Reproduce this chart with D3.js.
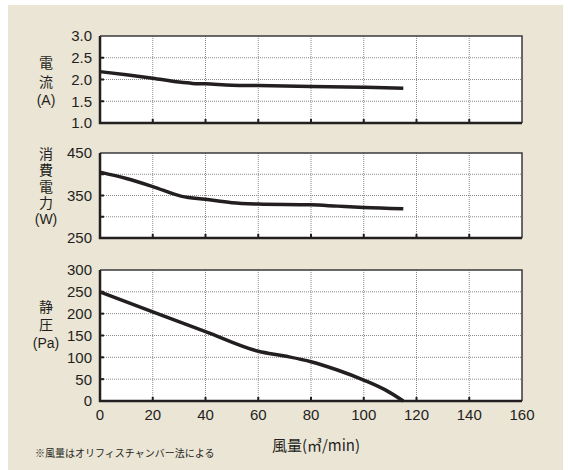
<!DOCTYPE html>
<html>
<head>
<meta charset="utf-8">
<script src="https://cdn.jsdelivr.net/npm/d3@7"></script>
<style>
  body { margin: 0; background: #fff; }
  text { font-family: "Liberation Sans", Arial, sans-serif; fill: #231f20; }
  .jp { font-family: "Noto Sans CJK JP", sans-serif; }
  .ttl { font-family: "Liberation Sans", "Noto Sans CJK JP", sans-serif; }
</style>
</head>
<body>
<svg id="chart" width="568" height="470"></svg>
<script>
// airflow (m3/min) axis
const xTicks = [0, 20, 40, 60, 80, 100, 120, 140, 160];

// current (A)
const curFlow = [0, 10, 20, 30, 35, 40, 50, 60, 80, 100, 115];
const curVal  = [2.18, 2.11, 2.03, 1.94, 1.91, 1.90, 1.87, 1.86, 1.84, 1.82, 1.80];
const curTicks = [1.0, 1.5, 2.0, 2.5, 3.0];
const curLabels = [1.0, 1.5, 2.0, 2.5, 3.0];

// power consumption (W)
const powFlow = [0, 10, 20, 31, 40, 50, 60, 80, 90, 100, 115];
const powVal  = [405, 390, 371, 348, 341, 333, 330, 328, 325, 322, 319];
const powTicks = [250, 300, 350, 400, 450];
const powLabels = [250, 350, 450];

// static pressure (Pa)
const presFlow = [0, 20, 40, 60, 70, 80, 90, 100, 108, 115];
const presVal  = [250, 204, 159, 114, 103, 90, 71, 48, 26, 0];
const presTicks = [0, 50, 100, 150, 200, 250, 300];
const presLabels = [0, 50, 100, 150, 200, 250, 300];

const svg = d3.select("#chart");
const left = 100, right = 522;

svg.append("rect")
    .attr("x", 8).attr("y", 5)
    .attr("width", 555).attr("height", 465)
    .attr("fill", "#ebe5d6");

const x = d3.scaleLinear().domain([0, 160]).range([left, right]);

// one panel per measured quantity
function panel(top, bottom, domain, ticks, labels, flow, vals, title, titleTop, lineGap, step) {
    const y = d3.scaleLinear().domain(domain).range([bottom, top]);
    const g = svg.append("g");

    g.append("rect")
        .attr("x", left).attr("y", top)
        .attr("width", right - left).attr("height", bottom - top)
        .attr("fill", "#fff");

    // dotted grid
    g.selectAll(".vg").data(xTicks.slice(1, -1)).join("line")
        .attr("x1", d => x(d)).attr("x2", d => x(d))
        .attr("y1", top).attr("y2", bottom)
        .attr("stroke", "#8a8a8a").attr("stroke-width", 1)
        .attr("stroke-dasharray", "1,1");
    g.selectAll(".hg").data(ticks.slice(1, -1)).join("line")
        .attr("x1", left).attr("x2", right)
        .attr("y1", d => y(d)).attr("y2", d => y(d))
        .attr("stroke", "#8a8a8a").attr("stroke-width", 1)
        .attr("stroke-dasharray", "1,1");

    // small inward ticks
    g.selectAll(".vt").data(xTicks.slice(1, -1)).join("line")
        .attr("x1", d => x(d)).attr("x2", d => x(d))
        .attr("y1", bottom).attr("y2", bottom - 4)
        .attr("stroke", "#231f20").attr("stroke-width", 2);
    g.selectAll(".ht").data(ticks.slice(1, -1)).join("line")
        .attr("x1", left).attr("x2", left + 4)
        .attr("y1", d => y(d)).attr("y2", d => y(d))
        .attr("stroke", "#231f20").attr("stroke-width", 2);

    // frame: top/right thinner, left/bottom heavier
    g.append("path")
        .attr("d", `M${left},${top}H${right}V${bottom}`)
        .attr("fill", "none").attr("stroke", "#3a3a3a").attr("stroke-width", 1.5);
    g.append("path")
        .attr("d", `M${left},${top}V${bottom}H${right}`)
        .attr("fill", "none").attr("stroke", "#231f20").attr("stroke-width", 2.5);

    // curve
    const line = d3.line()
        .x(d => x(d[0]))
        .y(d => y(d[1]))
        .curve(d3.curveMonotoneX);
    g.append("path")
        .datum(d3.zip(flow, vals))
        .attr("d", line)
        .attr("fill", "none")
        .attr("stroke", "#231f20")
        .attr("stroke-width", 3.5);

    // tick labels
    g.selectAll(".yl").data(labels).join("text")
        .attr("x", 92).attr("y", d => y(d))
        .attr("dy", "0.36em")
        .attr("text-anchor", "end")
        .attr("font-size", 15)
        .text(d => step ? d3.format(".1f")(d) : d);

    // stacked vertical title, one text with a tspan per line
    const t = g.append("text")
        .attr("class", "ttl")
        .attr("y", titleTop)
        .attr("text-anchor", "middle")
        .attr("font-size", 14);
    t.selectAll("tspan").data(title).join("tspan")
        .attr("x", 46)
        .attr("dy", (d, i) => i === 0 ? "0.36em" : lineGap)
        .text(d => d);
    return y;
}

panel(36, 123, [1, 3], curTicks, curLabels, curFlow, curVal,
      ["電", "流", "(A)"], 63, 18.5, true);
panel(153, 238, [250, 450], powTicks, powLabels, powFlow, powVal,
      ["消", "費", "電", "力", "(W)"], 154, 16.3, false);
panel(270, 401, [0, 300], presTicks, presLabels, presFlow, presVal,
      ["静", "圧", "(Pa)"], 307, 18, false);

// x labels
svg.selectAll(".xl").data(xTicks).join("text")
    .attr("x", d => x(d)).attr("y", 415)
    .attr("dy", "0.36em")
    .attr("text-anchor", "middle")
    .attr("font-size", 15)
    .text(d => d);

svg.append("text")
    .attr("class", "jp")
    .attr("x", 316).attr("y", 446)
    .attr("dy", "0.36em")
    .attr("text-anchor", "middle")
    .attr("font-size", 15)
    .text("風量(㎥/min)");

svg.append("text")
    .attr("class", "jp")
    .attr("x", 35).attr("y", 453)
    .attr("dy", "0.36em")
    .attr("font-size", 10)
    .text("※風量はオリフィスチャンバー法による");
</script>
</body>
</html>
